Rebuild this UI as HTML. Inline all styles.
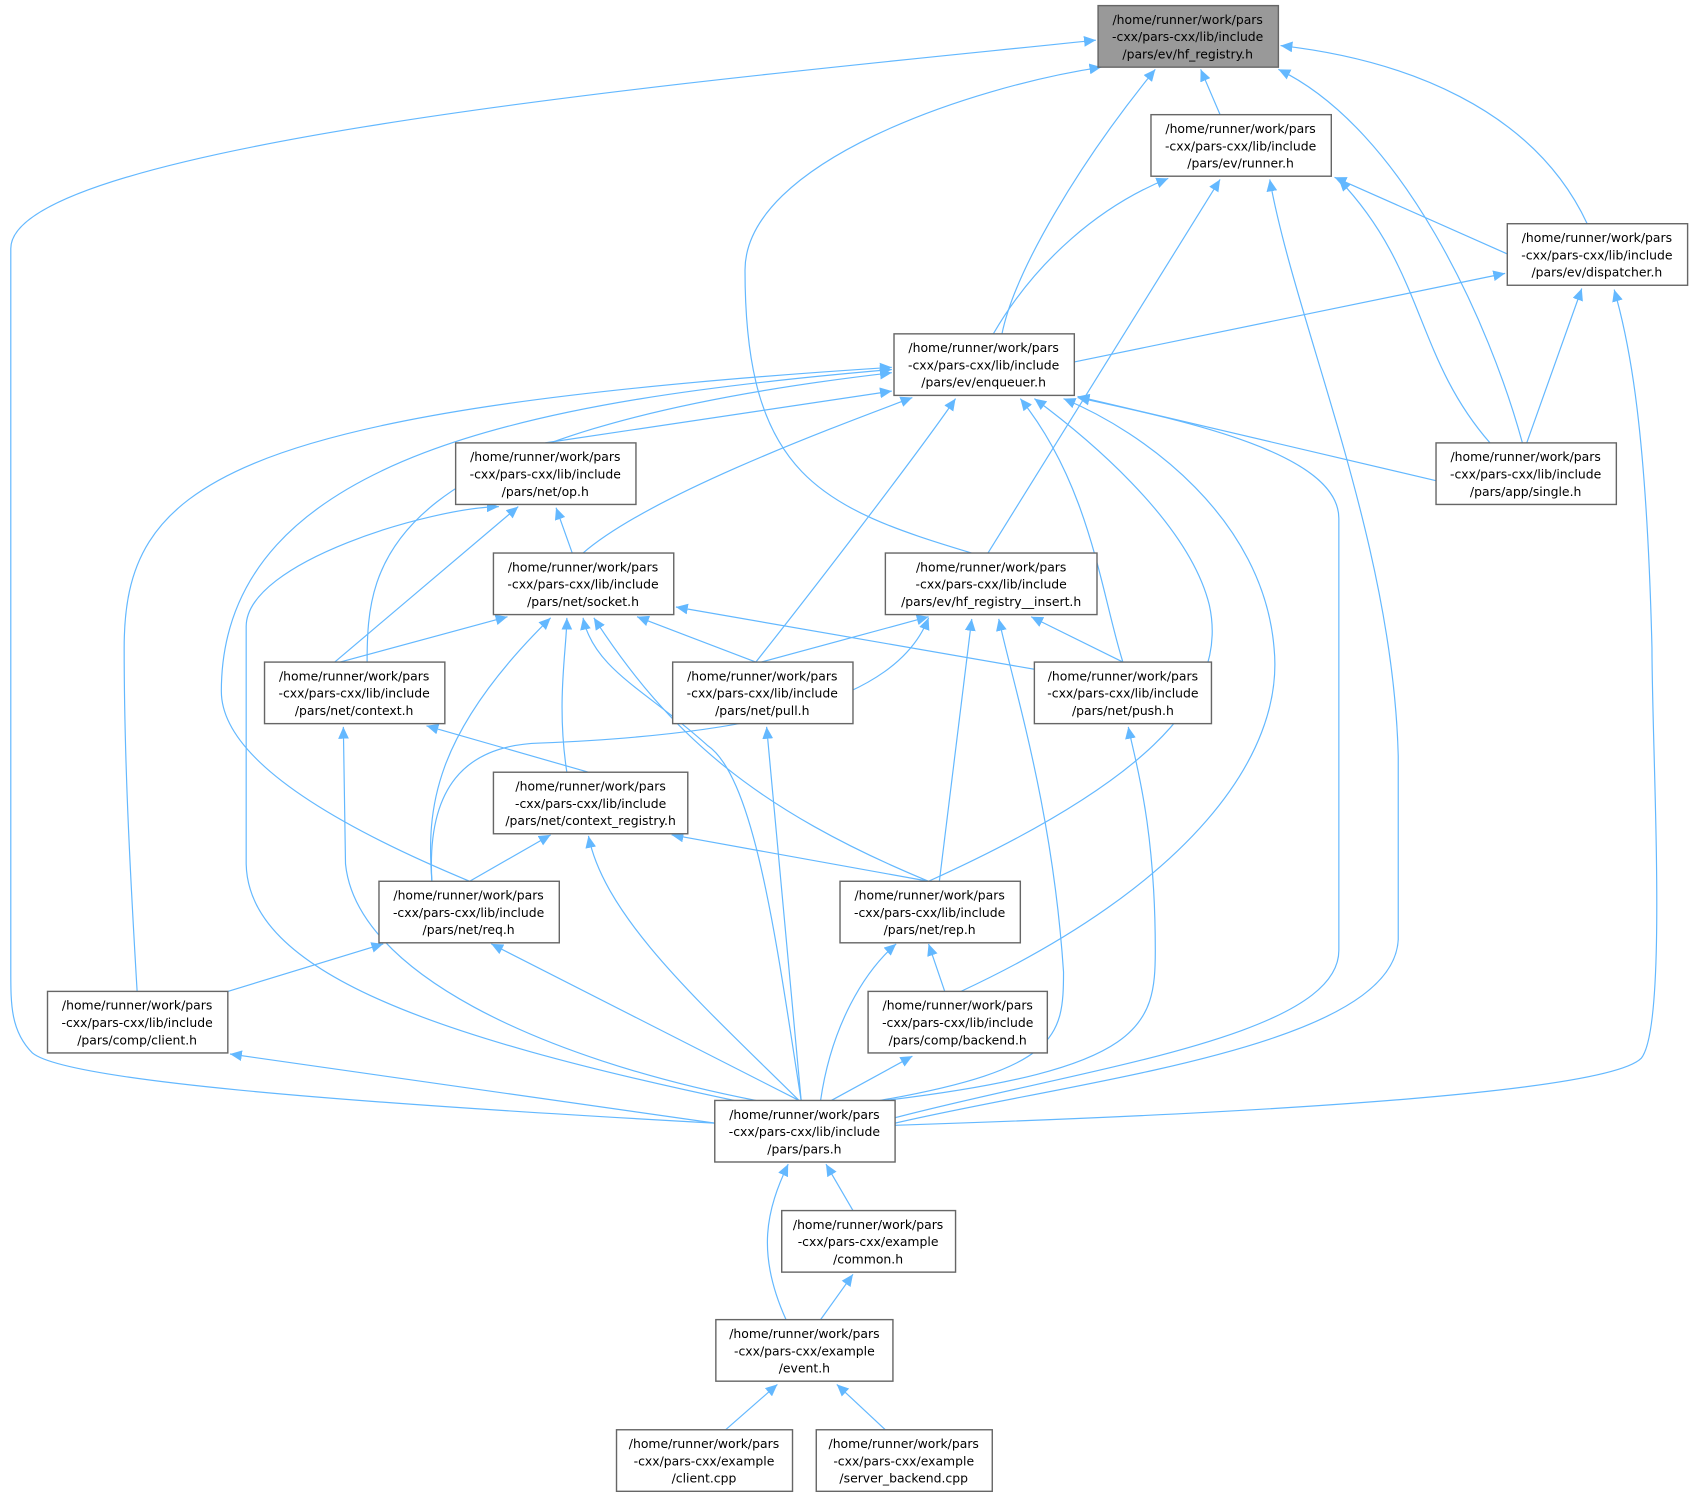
<!DOCTYPE html>
<html><head><meta charset="utf-8"><style>
html,body{margin:0;padding:0;background:#fff;}
svg{display:block;}
text{font-family:"DejaVu Sans","Liberation Sans",sans-serif;font-size:11.5px;fill:#000;}
.n{fill:#fff;stroke:#666;stroke-width:1.3;}
.e{fill:none;stroke:#63b8ff;stroke-width:1.1;}
</style></head><body>
<svg width="1693" height="1498" viewBox="0 0 1568 1387" xmlns="http://www.w3.org/2000/svg">
<defs><marker id="a" markerUnits="userSpaceOnUse" markerWidth="12" markerHeight="10" refX="11" refY="5" orient="auto"><path d="M0,0 L11,5 L0,10 z" fill="#63b8ff"/></marker></defs>
<g class="e" marker-end="url(#a)">
<path d="M662,1040 C300,1020 60,1000 30,975 C10,955 10,930 10,900 L10,230 C10,130 700,70 1015,37"/>
<path d="M1130,106 L1112,64"/>
<path d="M928,309 C940,250 1000,150 1070,64"/>
<path d="M900,512 C760,470 690,440 690,250 C690,150 900,80 1020,62"/>
<path d="M1410,410 C1380,300 1300,120 1184,64"/>
<path d="M1470,207 C1420,100 1300,55 1186,42"/>
<path d="M920,309 C960,240 1020,190 1082,165"/>
<path d="M915,512 L1130,166"/>
<path d="M829,1040 C1000,1000 1290,970 1295,870 L1295,700 C1290,500 1200,300 1176,166"/>
<path d="M1380,410 C1310,330 1320,250 1240,166"/>
<path d="M1396,235 L1236,164"/>
<path d="M995,335 L1394,253"/>
<path d="M1414,410 L1465,267"/>
<path d="M829,1042 C1200,1030 1490,1010 1520,980 C1545,950 1530,700 1530,600 C1525,400 1510,320 1495,268"/>
<path d="M1330,445 L998,367"/>
<path d="M505,410 L826,362"/>
<path d="M540,512 C600,460 760,400 845,368"/>
<path d="M340,613 C340,520 350,400 826,345"/>
<path d="M435,816 C300,760 205,700 205,640 C205,420 500,370 826,342"/>
<path d="M127,918 C120,800 115,700 115,600 C115,450 200,380 826,340"/>
<path d="M700,613 C750,550 850,420 885,369"/>
<path d="M1040,613 C1020,550 1010,450 945,369"/>
<path d="M860,816 C1050,730 1140,650 1120,560 C1100,480 1000,400 958,369"/>
<path d="M890,918 C1100,820 1190,700 1180,600 C1170,480 1060,400 985,369"/>
<path d="M829,1035 C1000,990 1240,960 1240,880 L1240,480 C1240,420 1100,390 998,368"/>
<path d="M310,613 L480,469"/>
<path d="M530,512 L515,470"/>
<path d="M680,1019 C400,960 230,900 228,800 L228,580 C228,520 400,470 462,469"/>
<path d="M315,613 L470,571"/>
<path d="M700,613 L590,571"/>
<path d="M960,620 L626,562"/>
<path d="M525,715 C515,650 525,600 525,572"/>
<path d="M400,816 C395,750 400,680 510,572"/>
<path d="M742,1019 C720,880 700,720 655,690 C600,640 550,620 540,572"/>
<path d="M860,816 C700,750 620,680 550,572"/>
<path d="M700,1019 C500,980 330,900 320,800 L318,673"/>
<path d="M545,715 L395,672"/>
<path d="M400,816 C395,730 430,690 500,688 C700,680 830,650 860,572"/>
<path d="M705,613 L860,571"/>
<path d="M1040,613 L955,571"/>
<path d="M870,816 L900,573"/>
<path d="M815,1019 C980,990 985,960 985,900 C975,750 940,640 925,573"/>
<path d="M742,1019 L710,673"/>
<path d="M820,1019 C1060,990 1070,950 1070,880 C1070,760 1050,700 1045,673"/>
<path d="M435,816 L510,773"/>
<path d="M860,816 L622,773"/>
<path d="M740,1019 C650,930 560,850 545,774"/>
<path d="M211,918 L355,874"/>
<path d="M740,1019 L455,874"/>
<path d="M875,918 L860,874"/>
<path d="M760,1019 C770,950 800,900 830,874"/>
<path d="M770,1019 L845,978"/>
<path d="M662,1040 L213,976"/>
<path d="M790,1121 L765,1078"/>
<path d="M728,1222 C700,1160 710,1120 730,1078"/>
<path d="M760,1222 L790,1180"/>
<path d="M672,1324 L720,1282"/>
<path d="M820,1324 L775,1282"/>
</g>
<g text-anchor="middle">
<rect x="1017" y="5" width="167" height="57" fill="#999" stroke="#666" stroke-width="1.3"/>
<text x="1100" y="22">/home/runner/work/pars</text><text x="1100" y="38">-cxx/pars-cxx/lib/include</text><text x="1100" y="54">/pars/ev/hf_registry.h</text>

<rect class="n" x="1066" y="106" width="167" height="57"/>
<text x="1149" y="123">/home/runner/work/pars</text><text x="1149" y="139">-cxx/pars-cxx/lib/include</text><text x="1149" y="155">/pars/ev/runner.h</text>

<rect class="n" x="1396" y="207" width="167" height="57"/>
<text x="1479" y="224">/home/runner/work/pars</text><text x="1479" y="240">-cxx/pars-cxx/lib/include</text><text x="1479" y="256">/pars/ev/dispatcher.h</text>

<rect class="n" x="828" y="309" width="167" height="57"/>
<text x="911" y="326">/home/runner/work/pars</text><text x="911" y="342">-cxx/pars-cxx/lib/include</text><text x="911" y="358">/pars/ev/enqueuer.h</text>

<rect class="n" x="1330" y="410" width="167" height="57"/>
<text x="1413" y="427">/home/runner/work/pars</text><text x="1413" y="443">-cxx/pars-cxx/lib/include</text><text x="1413" y="459">/pars/app/single.h</text>

<rect class="n" x="422" y="410" width="167" height="57"/>
<text x="505" y="427">/home/runner/work/pars</text><text x="505" y="443">-cxx/pars-cxx/lib/include</text><text x="505" y="459">/pars/net/op.h</text>

<rect class="n" x="457" y="512" width="167" height="57"/>
<text x="540" y="529">/home/runner/work/pars</text><text x="540" y="545">-cxx/pars-cxx/lib/include</text><text x="540" y="561">/pars/net/socket.h</text>

<rect class="n" x="820" y="512" width="196" height="57"/>
<text x="918" y="529">/home/runner/work/pars</text><text x="918" y="545">-cxx/pars-cxx/lib/include</text><text x="918" y="561">/pars/ev/hf_registry__insert.h</text>

<rect class="n" x="245" y="613" width="167" height="57"/>
<text x="328" y="630">/home/runner/work/pars</text><text x="328" y="646">-cxx/pars-cxx/lib/include</text><text x="328" y="662">/pars/net/context.h</text>

<rect class="n" x="623" y="613" width="167" height="57"/>
<text x="706" y="630">/home/runner/work/pars</text><text x="706" y="646">-cxx/pars-cxx/lib/include</text><text x="706" y="662">/pars/net/pull.h</text>

<rect class="n" x="958" y="613" width="164" height="57"/>
<text x="1040" y="630">/home/runner/work/pars</text><text x="1040" y="646">-cxx/pars-cxx/lib/include</text><text x="1040" y="662">/pars/net/push.h</text>

<rect class="n" x="457" y="715" width="180" height="57"/>
<text x="547" y="732">/home/runner/work/pars</text><text x="547" y="748">-cxx/pars-cxx/lib/include</text><text x="547" y="764">/pars/net/context_registry.h</text>

<rect class="n" x="351" y="816" width="167" height="57"/>
<text x="434" y="833">/home/runner/work/pars</text><text x="434" y="849">-cxx/pars-cxx/lib/include</text><text x="434" y="865">/pars/net/req.h</text>

<rect class="n" x="778" y="816" width="167" height="57"/>
<text x="861" y="833">/home/runner/work/pars</text><text x="861" y="849">-cxx/pars-cxx/lib/include</text><text x="861" y="865">/pars/net/rep.h</text>

<rect class="n" x="44" y="918" width="167" height="57"/>
<text x="127" y="935">/home/runner/work/pars</text><text x="127" y="951">-cxx/pars-cxx/lib/include</text><text x="127" y="967">/pars/comp/client.h</text>

<rect class="n" x="804" y="918" width="166" height="57"/>
<text x="887" y="935">/home/runner/work/pars</text><text x="887" y="951">-cxx/pars-cxx/lib/include</text><text x="887" y="967">/pars/comp/backend.h</text>

<rect class="n" x="662" y="1019" width="167" height="57"/>
<text x="745" y="1036">/home/runner/work/pars</text><text x="745" y="1052">-cxx/pars-cxx/lib/include</text><text x="745" y="1068">/pars/pars.h</text>

<rect class="n" x="724" y="1121" width="161" height="57"/>
<text x="804" y="1138">/home/runner/work/pars</text><text x="804" y="1154">-cxx/pars-cxx/example</text><text x="804" y="1170">/common.h</text>

<rect class="n" x="663" y="1222" width="164" height="57"/>
<text x="745" y="1239">/home/runner/work/pars</text><text x="745" y="1255">-cxx/pars-cxx/example</text><text x="745" y="1271">/event.h</text>

<rect class="n" x="571" y="1324" width="163" height="57"/>
<text x="652" y="1341">/home/runner/work/pars</text><text x="652" y="1357">-cxx/pars-cxx/example</text><text x="652" y="1373">/client.cpp</text>

<rect class="n" x="756" y="1324" width="163" height="57"/>
<text x="837" y="1341">/home/runner/work/pars</text><text x="837" y="1357">-cxx/pars-cxx/example</text><text x="837" y="1373">/server_backend.cpp</text>
</g>
</svg>
</body></html>
